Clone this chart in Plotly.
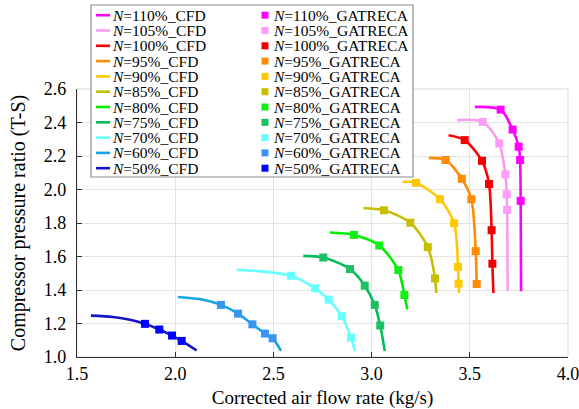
import plotly.graph_objects as go

# ---------------- data ----------------
speeds = ["110%", "105%", "100%", "95%", "90%", "85%", "80%", "75%", "70%", "60%", "50%"]

cfd_x = {
    "50%": [1.571, 1.683, 1.770, 1.846, 1.919, 1.984, 2.033, 2.109],
    "60%": [2.014, 2.143, 2.233, 2.320, 2.393, 2.457, 2.496, 2.539],
    "70%": [2.313, 2.590, 2.712, 2.781, 2.848, 2.895, 2.915],
    "75%": [2.652, 2.754, 2.890, 2.965, 3.016, 3.044, 3.067],
    "80%": [2.788, 2.910, 3.039, 3.136, 3.167, 3.182],
    "85%": [2.958, 3.063, 3.197, 3.286, 3.323, 3.329],
    "90%": [3.158, 3.226, 3.348, 3.420, 3.440, 3.443, 3.445],
    "95%": [3.291, 3.377, 3.459, 3.508, 3.530, 3.535],
    "100%": [3.392, 3.474, 3.562, 3.598, 3.611, 3.615, 3.620],
    "105%": [3.436, 3.566, 3.650, 3.681, 3.688, 3.690, 3.693],
    "110%": [3.526, 3.657, 3.718, 3.749, 3.756, 3.759, 3.761],
}
cfd_y = {
    "50%": [1.247, 1.239, 1.223, 1.198, 1.164, 1.128, 1.096, 1.039],
    "60%": [1.358, 1.342, 1.311, 1.259, 1.195, 1.140, 1.112, 1.037],
    "70%": [1.521, 1.485, 1.410, 1.342, 1.243, 1.116, 1.035],
    "75%": [1.604, 1.594, 1.525, 1.426, 1.311, 1.188, 1.035],
    "80%": [1.743, 1.729, 1.666, 1.519, 1.370, 1.283],
    "85%": [1.890, 1.876, 1.802, 1.656, 1.469, 1.382],
    "90%": [2.045, 2.040, 1.942, 1.799, 1.537, 1.438, 1.382],
    "95%": [2.189, 2.176, 2.064, 1.942, 1.632, 1.436],
    "100%": [2.324, 2.295, 2.171, 2.033, 1.757, 1.557, 1.382],
    "105%": [2.414, 2.404, 2.275, 2.090, 1.971, 1.878, 1.392],
    "110%": [2.493, 2.477, 2.358, 2.255, 2.176, 1.932, 1.392],
}
gat_x = {
    "50%": [1.846, 1.919, 1.984, 2.033],
    "60%": [2.233, 2.320, 2.393, 2.457, 2.496],
    "70%": [2.590, 2.712, 2.781, 2.848, 2.895],
    "75%": [2.754, 2.890, 2.965, 3.016, 3.044],
    "80%": [2.910, 3.039, 3.136, 3.167],
    "85%": [3.063, 3.197, 3.286, 3.323],
    "90%": [3.226, 3.348, 3.420, 3.440, 3.443],
    "95%": [3.377, 3.459, 3.508, 3.530, 3.535],
    "100%": [3.474, 3.562, 3.598, 3.611, 3.615],
    "105%": [3.566, 3.650, 3.681, 3.688, 3.690],
    "110%": [3.657, 3.718, 3.749, 3.756, 3.759],
}
gat_y = {
    "50%": [1.198, 1.164, 1.128, 1.096],
    "60%": [1.311, 1.259, 1.195, 1.140, 1.112],
    "70%": [1.485, 1.410, 1.342, 1.243, 1.116],
    "75%": [1.594, 1.525, 1.426, 1.311, 1.188],
    "80%": [1.729, 1.666, 1.519, 1.370],
    "85%": [1.876, 1.802, 1.656, 1.469],
    "90%": [2.040, 1.942, 1.799, 1.537, 1.438],
    "95%": [2.176, 2.064, 1.942, 1.632, 1.436],
    "100%": [2.295, 2.171, 2.033, 1.757, 1.557],
    "105%": [2.404, 2.275, 2.090, 1.971, 1.878],
    "110%": [2.477, 2.358, 2.255, 2.176, 1.932],
}

line_colors = {
    "110%": "#FF00FF", "105%": "#FA9CEE", "100%": "#FF0000", "95%": "#FF8C00",
    "90%": "#FFC800", "85%": "#C8BE00", "80%": "#00EE00", "75%": "#00BE5C",
    "70%": "#66FFFF", "60%": "#18A4E6", "50%": "#1414C8",
}
marker_colors = {
    "110%": "#FF00FF", "105%": "#FF9CF5", "100%": "#F00000", "95%": "#FF8C00",
    "90%": "#FFC800", "85%": "#C8BE00", "80%": "#11EE11", "75%": "#1CC062",
    "70%": "#66FFFF", "60%": "#3A95F0", "50%": "#0000FF",
}

x_ticks = [1.5, 2.0, 2.5, 3.0, 3.5, 4.0]
y_ticks = [1.0, 1.2, 1.4, 1.6, 1.8, 2.0, 2.2, 2.4, 2.6]

FONT = "Liberation Serif"

# ---------------- figure ----------------
W, H = 579, 409
L, R, T, B = 77, 568, 89, 357

fig = go.Figure()
for s in speeds[::-1]:
    fig.add_trace(go.Scatter(
        x=cfd_x[s], y=cfd_y[s], mode="lines",
        line=dict(color=line_colors[s], width=2.6, shape="spline", smoothing=0.8),
        showlegend=False, name=f"N={s}_CFD"))
for s in speeds[::-1]:
    fig.add_trace(go.Scatter(
        x=gat_x[s], y=gat_y[s], mode="markers",
        marker=dict(color=marker_colors[s], symbol="square", size=8, line=dict(width=0)),
        showlegend=False, name=f"N={s}_GATRECA"))


def px2x(px):
    return (px - L) / (R - L)


def py2y(py):
    return (B - py) / (B - T)


shapes = []
annotations = []
# plot frame (light gray top/right)
shapes.append(dict(type="rect", xref="paper", yref="paper", x0=0, x1=1, y0=0, y1=1,
                   line=dict(color="#D9D9D9", width=1), layer="below"))
# legend box
shapes.append(dict(type="rect", xref="paper", yref="paper",
                   x0=px2x(91), x1=px2x(413), y0=py2y(177), y1=py2y(5),
                   line=dict(color="#8C8C8C", width=1.2), fillcolor="white", layer="above"))
row0, dy = 15.2, 15.3
for i, s in enumerate(speeds):
    yc = row0 + i * dy
    shapes.append(dict(type="line", xref="paper", yref="paper",
                       x0=px2x(96), x1=px2x(110), y0=py2y(yc), y1=py2y(yc),
                       line=dict(color=line_colors[s], width=2.6), layer="above"))
    shapes.append(dict(type="rect", xref="paper", yref="paper",
                       x0=px2x(261.5), x1=px2x(268.5), y0=py2y(yc + 3.5), y1=py2y(yc - 3.5),
                       line=dict(width=0), fillcolor=marker_colors[s], layer="above"))
    annotations.append(dict(xref="paper", yref="paper", x=px2x(111), y=py2y(yc),
                            text=f"<i>N</i>={s}_CFD", showarrow=False, xanchor="left",
                            yanchor="middle", borderpad=0,
                            font=dict(family=FONT, size=15.5, color="black")))
    annotations.append(dict(xref="paper", yref="paper", x=px2x(272), y=py2y(yc),
                            text=f"<i>N</i>={s}_GATRECA", showarrow=False, xanchor="left",
                            yanchor="middle", borderpad=0,
                            font=dict(family=FONT, size=15.5, color="black")))

fig.update_layout(
    width=W, height=H,
    margin=dict(l=L, r=W - R, t=T, b=H - B, autoexpand=False),
    paper_bgcolor="white", plot_bgcolor="white",
    font=dict(family=FONT, color="black"),
    shapes=shapes, annotations=annotations,
    showlegend=False,
)
fig.update_xaxes(
    range=[1.5, 4.0], tickvals=x_ticks, ticktext=[f"{v:.1f}" for v in x_ticks],
    showgrid=True, gridcolor="#E3E3E3", gridwidth=1,
    showline=True, linecolor="#333333", linewidth=1.2,
    ticks="inside", ticklen=5, tickcolor="#333333",
    tickfont=dict(family=FONT, size=18, color="black"),
    ticklabelstandoff=0, ticklabeloverflow="allow", automargin=False,
    title=dict(text="Corrected air flow rate (kg/s)", font=dict(family=FONT, size=19, color="black"), standoff=8),
    zeroline=False,
)
fig.update_yaxes(
    range=[1.0, 2.6], tickvals=y_ticks, ticktext=[f"{v:.1f}" for v in y_ticks],
    showgrid=True, gridcolor="#E3E3E3", gridwidth=1,
    showline=True, linecolor="#333333", linewidth=1.2,
    ticks="inside", ticklen=5, tickcolor="#333333",
    tickfont=dict(family=FONT, size=18, color="black"),
    ticklabelstandoff=6, ticklabeloverflow="allow", automargin=False,
    title=dict(text="Compressor pressure ratio (T-S)", font=dict(family=FONT, size=20, color="black"), standoff=12),
    zeroline=False,
)

fig.write_html("out.html")
